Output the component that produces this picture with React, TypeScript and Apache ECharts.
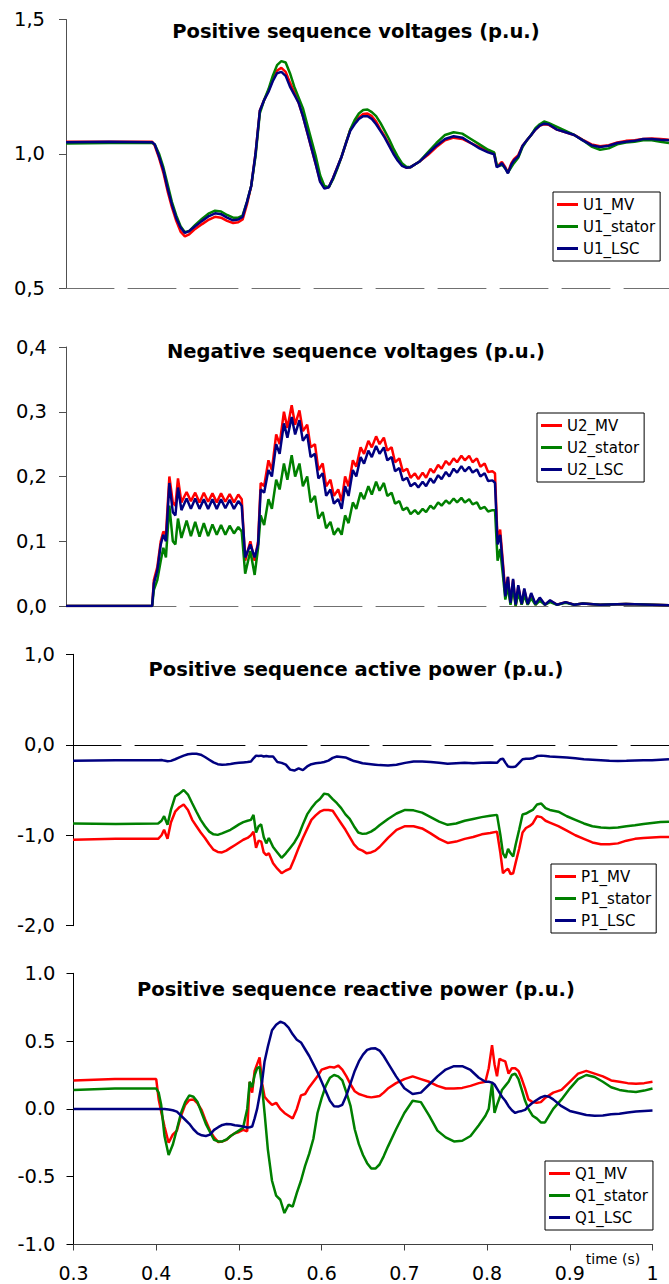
import React, { useEffect, useRef } from "react";
import * as echarts from "echarts";

// ---------- Panel 1: positive sequence voltages ----------
const T1 = [
  0.3, 0.35, 0.4, 0.403, 0.408, 0.413, 0.418, 0.423, 0.428, 0.433,
  0.438, 0.443, 0.45, 0.458, 0.466, 0.473, 0.48, 0.487, 0.494, 0.5,
  0.505, 0.51, 0.515, 0.52, 0.525, 0.53, 0.535, 0.54, 0.545, 0.55,
  0.555, 0.56, 0.565, 0.57, 0.575, 0.58, 0.585, 0.59, 0.595, 0.6,
  0.605, 0.61, 0.615, 0.62, 0.625, 0.63, 0.635, 0.64, 0.645, 0.65,
  0.655, 0.66, 0.665, 0.67, 0.675, 0.68, 0.685, 0.69, 0.695, 0.7,
  0.71, 0.72, 0.73, 0.74, 0.75, 0.76, 0.77, 0.78, 0.79, 0.797,
  0.8, 0.803, 0.806, 0.81, 0.813, 0.817, 0.82, 0.825, 0.83, 0.835,
  0.84, 0.845, 0.85, 0.855, 0.86, 0.87, 0.88, 0.89, 0.9, 0.91,
  0.92, 0.93, 0.94, 0.95, 0.96, 0.97, 0.98, 0.99, 1.0,
];
const U1_MV = [
  1.045, 1.045, 1.045, 1.03, 0.985, 0.93, 0.86, 0.8, 0.75, 0.71,
  0.692, 0.7, 0.72, 0.738, 0.755, 0.765, 0.762, 0.75, 0.742, 0.745,
  0.755, 0.81, 0.88, 1.0, 1.16, 1.2, 1.235, 1.275, 1.31, 1.32,
  1.305, 1.265, 1.23, 1.19, 1.14, 1.08, 1.02, 0.96, 0.9, 0.875,
  0.875, 0.91, 0.95, 0.99, 1.04, 1.09, 1.115, 1.135, 1.148, 1.15,
  1.14, 1.12, 1.09, 1.065, 1.035, 1.005, 0.978, 0.958, 0.948, 0.95,
  0.97, 0.995, 1.025, 1.05, 1.06, 1.055, 1.04, 1.025, 1.01, 1.003,
  0.955, 0.96, 0.97, 0.95, 0.93, 0.965, 0.98, 0.995, 1.03, 1.05,
  1.07, 1.09, 1.105, 1.11, 1.108, 1.09, 1.08, 1.07, 1.052, 1.035,
  1.028, 1.032, 1.042, 1.048, 1.05, 1.055, 1.057, 1.055, 1.052,
];
const U1_stator = [
  1.038, 1.04, 1.04, 1.035, 1.0, 0.95, 0.885, 0.82, 0.77, 0.73,
  0.708, 0.712, 0.735, 0.758, 0.778, 0.788, 0.785, 0.772, 0.762, 0.762,
  0.77, 0.82, 0.88, 0.99, 1.15, 1.2, 1.24, 1.29, 1.33, 1.345,
  1.34, 1.3, 1.25, 1.21, 1.17, 1.11, 1.05, 0.99, 0.92, 0.88,
  0.875, 0.905, 0.945, 0.99, 1.04, 1.09, 1.125, 1.15, 1.163, 1.165,
  1.155, 1.14, 1.115, 1.085, 1.055, 1.02, 0.99, 0.965, 0.952, 0.95,
  0.97, 1.005, 1.04, 1.07, 1.08, 1.075, 1.055, 1.035, 1.015, 1.005,
  0.96, 0.955, 0.96, 0.945, 0.93, 0.95, 0.965, 0.985, 1.025, 1.05,
  1.07, 1.095, 1.11, 1.12, 1.115, 1.1, 1.085, 1.07, 1.05, 1.027,
  1.015, 1.02, 1.035, 1.042, 1.045, 1.05, 1.05, 1.045, 1.04,
];
const U1_LSC = [
  1.043, 1.045, 1.043, 1.035, 0.99, 0.94, 0.87, 0.81, 0.76, 0.725,
  0.705, 0.712, 0.73, 0.75, 0.768, 0.778, 0.775, 0.762, 0.752, 0.755,
  0.765, 0.82, 0.88, 1.0, 1.16, 1.2, 1.23, 1.27, 1.3, 1.305,
  1.29, 1.25, 1.22, 1.19, 1.14, 1.08, 1.02, 0.96, 0.895, 0.87,
  0.875, 0.91, 0.95, 0.99, 1.04, 1.085, 1.11, 1.13, 1.14, 1.14,
  1.13, 1.11, 1.085, 1.06, 1.03, 1.0, 0.975, 0.955, 0.948, 0.95,
  0.97, 1.0, 1.03, 1.055, 1.065, 1.06, 1.04, 1.02, 1.005, 0.998,
  0.95, 0.955, 0.965, 0.945, 0.927, 0.96, 0.975, 0.99, 1.03, 1.05,
  1.07, 1.09, 1.105, 1.112, 1.11, 1.09, 1.08, 1.07, 1.05, 1.032,
  1.025, 1.03, 1.04, 1.045, 1.048, 1.055, 1.055, 1.052, 1.05,
];

// ---------- Panel 2: negative sequence voltages ----------
const T2 = [
  0.3, 0.35, 0.4, 0.402, 0.406, 0.41, 0.413, 0.416, 0.42, 0.424,
  0.427, 0.43, 0.434, 0.44, 0.445, 0.45, 0.455, 0.46, 0.465, 0.47,
  0.475, 0.48, 0.485, 0.49, 0.495, 0.5, 0.504, 0.508, 0.514, 0.519,
  0.523, 0.526, 0.53, 0.535, 0.539, 0.544, 0.548, 0.553, 0.557, 0.562,
  0.566, 0.571, 0.575, 0.58, 0.584, 0.589, 0.593, 0.598, 0.602, 0.607,
  0.611, 0.616, 0.62, 0.624, 0.628, 0.633, 0.637, 0.642, 0.646, 0.651,
  0.655, 0.66, 0.664, 0.669, 0.673, 0.678, 0.682, 0.687, 0.691, 0.696,
  0.7, 0.705, 0.709, 0.714, 0.718, 0.723, 0.727, 0.732, 0.736, 0.741,
  0.745, 0.75, 0.754, 0.759, 0.763, 0.768, 0.772, 0.777, 0.781, 0.786,
  0.79, 0.795, 0.798, 0.801, 0.804, 0.807, 0.81, 0.813, 0.816, 0.819,
  0.822, 0.825, 0.829, 0.832, 0.836, 0.84, 0.845, 0.85, 0.856, 0.862,
  0.87, 0.88, 0.89, 0.9, 0.92, 0.95, 1.0,
];
const U2_MV = [
  0, 0, 0, 0.04, 0.06, 0.1, 0.115, 0.11, 0.2, 0.16,
  0.155, 0.197, 0.16, 0.176, 0.162, 0.175, 0.16, 0.175, 0.161, 0.174,
  0.16, 0.174, 0.161, 0.173, 0.16, 0.172, 0.165, 0.07, 0.1, 0.07,
  0.1, 0.19, 0.185, 0.225, 0.21, 0.265, 0.25, 0.3, 0.275, 0.31,
  0.28, 0.302, 0.27, 0.28, 0.245, 0.25, 0.21, 0.22, 0.185, 0.195,
  0.17, 0.18, 0.162, 0.2, 0.185, 0.225, 0.215, 0.245, 0.235, 0.255,
  0.245, 0.262, 0.25, 0.26, 0.24, 0.245, 0.222, 0.228, 0.208, 0.212,
  0.198, 0.205, 0.196, 0.206, 0.198, 0.212, 0.206, 0.218, 0.212, 0.224,
  0.218, 0.228, 0.222, 0.232, 0.225, 0.232, 0.222, 0.228, 0.215, 0.22,
  0.207, 0.208, 0.205, 0.1, 0.118, 0.07, 0.02, 0.045, 0.003, 0.04,
  0, 0.03, 0.002, 0.025, 0.002, 0.018, 0.002, 0.012, 0.002, 0.008,
  0.002, 0.006, 0.002, 0.004, 0.002, 0.003, 0.001,
];
const U2_stator = [
  0, 0, 0, 0.025, 0.04, 0.07, 0.09, 0.075, 0.155, 0.1,
  0.095, 0.135, 0.105, 0.132, 0.108, 0.13, 0.107, 0.128, 0.108, 0.126,
  0.11, 0.125, 0.11, 0.124, 0.112, 0.122, 0.115, 0.05, 0.085, 0.048,
  0.09, 0.14, 0.125, 0.165, 0.15, 0.195, 0.18, 0.22, 0.195, 0.233,
  0.2, 0.22, 0.185, 0.2, 0.16, 0.17, 0.135, 0.145, 0.12, 0.13,
  0.11, 0.12, 0.11, 0.14, 0.128, 0.16, 0.15, 0.175, 0.165, 0.185,
  0.172, 0.192, 0.178, 0.19, 0.17, 0.175, 0.158, 0.162, 0.148, 0.152,
  0.142, 0.148, 0.142, 0.15, 0.145, 0.155, 0.15, 0.16, 0.155, 0.163,
  0.158, 0.166, 0.16, 0.167, 0.16, 0.165, 0.157, 0.16, 0.15, 0.153,
  0.146, 0.148, 0.148, 0.07, 0.088, 0.05, 0.01, 0.03, 0.002, 0.028,
  0, 0.02, 0.002, 0.016, 0.002, 0.012, 0.002, 0.008, 0.002, 0.006,
  0.002, 0.005, 0.002, 0.004, 0.002, 0.003, 0.001,
];
const U2_LSC = [
  0, 0, 0, 0.035, 0.055, 0.095, 0.11, 0.1, 0.19, 0.145,
  0.14, 0.183, 0.148, 0.166, 0.15, 0.166, 0.15, 0.165, 0.15, 0.165,
  0.15, 0.165, 0.151, 0.164, 0.15, 0.162, 0.155, 0.075, 0.095, 0.075,
  0.095, 0.18, 0.175, 0.21, 0.2, 0.25, 0.235, 0.282, 0.26, 0.292,
  0.265, 0.287, 0.255, 0.265, 0.23, 0.235, 0.197, 0.205, 0.17, 0.18,
  0.158, 0.165, 0.15, 0.185, 0.17, 0.21, 0.2, 0.23, 0.22, 0.24,
  0.23, 0.247, 0.235, 0.245, 0.225, 0.23, 0.208, 0.213, 0.194, 0.198,
  0.185, 0.19, 0.183, 0.192, 0.185, 0.197, 0.19, 0.202, 0.196, 0.207,
  0.2, 0.212, 0.206, 0.216, 0.208, 0.215, 0.206, 0.211, 0.2, 0.205,
  0.193, 0.194, 0.19, 0.095, 0.11, 0.065, 0.015, 0.045, 0.005, 0.042,
  0.002, 0.032, 0.003, 0.027, 0.003, 0.02, 0.003, 0.013, 0.002, 0.009,
  0.002, 0.006, 0.002, 0.004, 0.002, 0.003, 0.001,
];

// ---------- Panel 3: positive sequence active power ----------
const T3 = [
  0.3, 0.35, 0.4, 0.404, 0.407, 0.411, 0.415, 0.42, 0.425, 0.43,
  0.435, 0.44, 0.445, 0.45, 0.455, 0.46, 0.465, 0.47, 0.475, 0.48,
  0.485, 0.49, 0.495, 0.5, 0.505, 0.509, 0.512, 0.515, 0.518, 0.521,
  0.524, 0.527, 0.53, 0.535, 0.54, 0.545, 0.55, 0.555, 0.56, 0.565,
  0.57, 0.575, 0.58, 0.585, 0.59, 0.595, 0.6, 0.605, 0.61, 0.615,
  0.62, 0.625, 0.63, 0.635, 0.64, 0.645, 0.65, 0.655, 0.66, 0.67,
  0.68, 0.69, 0.7, 0.71, 0.72, 0.73, 0.74, 0.75, 0.76, 0.77,
  0.78, 0.79, 0.798, 0.802, 0.805, 0.808, 0.811, 0.814, 0.817, 0.82,
  0.824, 0.828, 0.832, 0.836, 0.84, 0.845, 0.85, 0.855, 0.86, 0.87,
  0.88, 0.89, 0.9, 0.91, 0.92, 0.93, 0.94, 0.95, 0.96, 0.97,
  0.98, 0.99, 1.0,
];
const P1_MV = [
  -1.05, -1.04, -1.04, -1.0, -0.94, -1.04, -0.86, -0.74, -0.69, -0.66,
  -0.72, -0.83, -0.9, -0.97, -1.03, -1.1, -1.16, -1.185, -1.19, -1.17,
  -1.14, -1.11, -1.08, -1.05, -1.03, -1.0, -0.96, -1.14, -1.06, -1.07,
  -1.19, -1.22, -1.2, -1.31, -1.37, -1.42, -1.39, -1.37, -1.26, -1.14,
  -1.03, -0.93, -0.83, -0.78, -0.74, -0.72, -0.72, -0.73, -0.8, -0.87,
  -0.94, -1.02, -1.1, -1.15, -1.17, -1.2, -1.19, -1.17, -1.13, -1.03,
  -0.94, -0.9, -0.9, -0.925, -0.98, -1.04, -1.085, -1.07, -1.04, -1.02,
  -0.99, -0.975, -0.96, -1.2, -1.42, -1.39, -1.37, -1.43, -1.42, -1.3,
  -1.15, -0.97, -0.92, -0.9, -0.87, -0.79, -0.8, -0.84, -0.86, -0.9,
  -0.95, -1.0, -1.04, -1.08, -1.1, -1.1, -1.09, -1.06, -1.04, -1.03,
  -1.025, -1.02, -1.02,
];
const P1_stator = [
  -0.87, -0.875, -0.87, -0.84, -0.79, -0.885, -0.72, -0.57, -0.54, -0.5,
  -0.55, -0.646, -0.74, -0.83, -0.9, -0.96, -0.99, -0.996, -0.98, -0.96,
  -0.94, -0.91, -0.88, -0.855, -0.84, -0.83, -0.775, -0.97, -0.9, -0.88,
  -1.02, -1.09, -1.03, -1.13, -1.19, -1.25, -1.2, -1.14, -1.08, -1.0,
  -0.88, -0.77, -0.7, -0.64, -0.6, -0.54, -0.55, -0.6, -0.646, -0.7,
  -0.77, -0.82, -0.9, -0.97, -0.985, -0.98, -0.96, -0.93, -0.89, -0.82,
  -0.76, -0.72, -0.725, -0.75, -0.8, -0.85, -0.885, -0.87, -0.84, -0.82,
  -0.8, -0.785, -0.775, -1.0, -1.2, -1.25, -1.15, -1.2, -1.236, -1.1,
  -0.94, -0.77, -0.76, -0.74, -0.72, -0.66, -0.65, -0.7, -0.72, -0.74,
  -0.79, -0.83, -0.87, -0.9, -0.915, -0.92, -0.915, -0.9, -0.89, -0.875,
  -0.865, -0.855, -0.85,
];
const P1_LSC = [
  -0.178, -0.172, -0.17, -0.168, -0.175, -0.182, -0.178, -0.16, -0.14, -0.12,
  -0.105, -0.1, -0.1, -0.11, -0.135, -0.165, -0.195, -0.215, -0.222, -0.218,
  -0.212, -0.205, -0.2, -0.195, -0.19, -0.185, -0.15, -0.12, -0.125, -0.12,
  -0.13, -0.125, -0.13, -0.13, -0.19, -0.2, -0.22, -0.275, -0.285, -0.26,
  -0.28, -0.24, -0.215, -0.205, -0.2, -0.19, -0.175, -0.145, -0.13, -0.135,
  -0.14, -0.16, -0.18, -0.19, -0.205, -0.21, -0.215, -0.22, -0.225, -0.228,
  -0.22, -0.2, -0.185, -0.185, -0.19, -0.2, -0.21, -0.205, -0.2, -0.205,
  -0.2, -0.195, -0.2, -0.16, -0.155, -0.2, -0.24, -0.245, -0.245, -0.24,
  -0.2, -0.16, -0.155, -0.155, -0.15, -0.125, -0.12, -0.125, -0.13, -0.135,
  -0.14, -0.15, -0.16, -0.165, -0.17, -0.178, -0.18, -0.178, -0.175, -0.172,
  -0.17, -0.165, -0.16,
];

// ---------- Panel 4: positive sequence reactive power ----------
const T4 = [
  0.3, 0.35, 0.4, 0.403, 0.406, 0.41, 0.415, 0.42, 0.425, 0.43,
  0.435, 0.44, 0.445, 0.45, 0.455, 0.46, 0.465, 0.47, 0.475, 0.48,
  0.485, 0.49, 0.495, 0.5, 0.505, 0.51, 0.513, 0.516, 0.519, 0.522,
  0.525, 0.528, 0.531, 0.535, 0.54, 0.545, 0.55, 0.555, 0.56, 0.565,
  0.57, 0.575, 0.58, 0.585, 0.59, 0.595, 0.6, 0.605, 0.61, 0.615,
  0.62, 0.625, 0.63, 0.635, 0.64, 0.645, 0.65, 0.655, 0.66, 0.665,
  0.67, 0.675, 0.68, 0.69, 0.7, 0.71, 0.72, 0.73, 0.74, 0.75,
  0.76, 0.77, 0.78, 0.79, 0.798, 0.802, 0.806, 0.809, 0.812, 0.815,
  0.818, 0.822, 0.826, 0.83, 0.834, 0.838, 0.842, 0.846, 0.85, 0.855,
  0.86, 0.865, 0.87, 0.875, 0.88, 0.89, 0.9, 0.91, 0.92, 0.93,
  0.94, 0.95, 0.96, 0.97, 0.98, 0.99, 1.0,
];
const Q1_MV = [
  0.21, 0.22, 0.22, 0.07, -0.02, -0.13, -0.25, -0.19, -0.16, -0.05,
  0.03, 0.066, 0.07, 0.04, -0.01, -0.09, -0.16, -0.21, -0.245, -0.24,
  -0.228, -0.2, -0.18, -0.17, -0.155, -0.165, 0.2, 0.12, 0.28, 0.33,
  0.38, 0.19, 0.09, 0.06, 0.03, 0.045, 0.0, -0.03, -0.05, -0.07,
  0.0, 0.1, 0.11, 0.16, 0.2, 0.24, 0.29, 0.3, 0.31, 0.305,
  0.32, 0.29, 0.24, 0.18, 0.13, 0.11, 0.1, 0.09, 0.085, 0.09,
  0.095, 0.12, 0.15, 0.19, 0.22, 0.24, 0.22, 0.2, 0.17, 0.15,
  0.15, 0.155, 0.17, 0.19, 0.2, 0.3, 0.47, 0.33, 0.24, 0.37,
  0.36, 0.35, 0.26, 0.3, 0.3, 0.28, 0.22, 0.15, 0.07, 0.05,
  0.045, 0.05, 0.08, 0.1, 0.12, 0.14, 0.2, 0.26, 0.28, 0.26,
  0.24, 0.21, 0.2, 0.19, 0.185, 0.19, 0.2,
];
const Q1_stator = [
  0.14, 0.15, 0.15, 0.12, 0.03, -0.2, -0.34, -0.265, -0.15, -0.03,
  0.05, 0.1, 0.09, 0.05, -0.03, -0.11, -0.17, -0.228, -0.24, -0.24,
  -0.225, -0.2, -0.18, -0.16, -0.14, 0.0, 0.2, 0.16, 0.25, 0.3,
  0.31, 0.16, -0.03, -0.3, -0.53, -0.64, -0.67, -0.768, -0.707, -0.72,
  -0.62, -0.53, -0.42, -0.33, -0.22, -0.03, 0.08, 0.17, 0.23, 0.25,
  0.24, 0.21, 0.12, 0.02, -0.15, -0.26, -0.34, -0.4, -0.44, -0.44,
  -0.41, -0.35, -0.28, -0.15, -0.03, 0.06, 0.05, -0.05, -0.16, -0.21,
  -0.24, -0.235, -0.2, -0.12, -0.05, 0.0, 0.19, -0.03, 0.03, 0.08,
  0.14, 0.17, 0.2, 0.25, 0.26, 0.22, 0.14, 0.06, 0.0, -0.05,
  -0.07, -0.1, -0.1, -0.05, 0.0, 0.07, 0.15, 0.22, 0.25, 0.235,
  0.2, 0.16, 0.14, 0.13, 0.125, 0.135, 0.15,
];
const Q1_LSC = [
  0, 0, 0, 0, 0, 0, -0.005, -0.01, -0.02, -0.05,
  -0.08, -0.11, -0.15, -0.18, -0.195, -0.2, -0.19, -0.155, -0.135, -0.118,
  -0.112, -0.113, -0.12, -0.125, -0.13, -0.137, -0.135, -0.13, -0.07, 0.0,
  0.1, 0.2, 0.35, 0.46, 0.58, 0.62, 0.643, 0.63, 0.6, 0.55,
  0.51, 0.49, 0.44, 0.39, 0.33, 0.27, 0.2, 0.13, 0.06, 0.02,
  0.017, 0.03, 0.1, 0.19, 0.28, 0.35, 0.4, 0.435, 0.445, 0.447,
  0.43, 0.39, 0.34, 0.24, 0.152, 0.11, 0.12, 0.18, 0.24, 0.29,
  0.315, 0.315, 0.287, 0.23, 0.2, 0.2, 0.194, 0.18, 0.15, 0.12,
  0.09, 0.06, 0.02, -0.01, -0.03, -0.02, -0.015, -0.007, 0.02, 0.045,
  0.066, 0.085, 0.096, 0.09, 0.07, 0.02, -0.015, -0.03, -0.045, -0.05,
  -0.048, -0.04, -0.035, -0.027, -0.02, -0.015, -0.012,
];

const TITLES = [
  "Positive sequence voltages (p.u.)",
  "Negative sequence voltages (p.u.)",
  "Positive sequence active power (p.u.)",
  "Positive sequence reactive power (p.u.)",
];
const X_TICK_LABELS = ["0.3", "0.4", "0.5", "0.6", "0.7", "0.8", "0.9", "1"];

const RED = "#ff0000";
const GREEN = "#008000";
const BLUE = "#000080";
const FONT = "DejaVu Sans";

export default function App() {
  const ref = useRef<HTMLDivElement>(null);

  useEffect(() => {
    if (!ref.current) return;
    const chart = echarts.init(ref.current, null, { renderer: "svg" });

    const grids = [
      { left: 66, right: -5, top: 19.5, height: 268.5 },
      { left: 66, right: -5, top: 347, height: 259 },
      { left: 73, right: -3, top: 654.3, height: 271.4 },
      { left: 73.5, right: 16.5, top: 973.3, height: 271.2 },
    ];

    const comma = (v: number) => v.toFixed(1).replace(".", ",");
    const yCfg = [
      { min: 0.5, max: 1.5, interval: 0.5, fmt: comma, margin: 21 },
      { min: 0, max: 0.4, interval: 0.1, fmt: comma, margin: 19 },
      { min: -2, max: 1, interval: 1, fmt: comma, margin: 18 },
      { min: -1, max: 1, interval: 0.5, fmt: (v: number) => v.toFixed(1), margin: 18 },
    ];

    const xAxes = grids.map((_, i) => {
      const last = i === 3;
      return {
        type: "value",
        gridIndex: i,
        min: 0.3,
        max: 1.0,
        interval: 0.1,
        splitLine: { show: false },
        axisLine: {
          show: true,
          onZero: !last,
          lineStyle: last
            ? { color: "#404040", width: 1 }
            : { color: i === 2 ? "#000" : "#707070", width: 1, type: [48, 14] },
        },
        axisTick: { show: last, length: 6, lineStyle: { color: "#404040" } },
        axisLabel: {
          show: last,
          margin: 19,
          fontFamily: FONT,
          fontSize: 19,
          color: "#000",
          formatter: (v: number) => {
            const idx = Math.round((v - 0.3) * 10);
            return X_TICK_LABELS[idx] ?? "";
          },
        },
      };
    });

    const yAxes = yCfg.map((c, i) => ({
      type: "value",
      gridIndex: i,
      min: c.min,
      max: c.max,
      interval: c.interval,
      splitLine: { show: false },
      axisLine: { show: true, onZero: false, lineStyle: { color: i < 2 ? "#505050" : "#000", width: 1 } },
      axisTick: { show: true, length: 7, lineStyle: { color: i < 2 ? "#505050" : "#000" } },
      axisLabel: {
        margin: c.margin,
        fontFamily: FONT,
        fontSize: 19.5,
        color: "#000",
        formatter: c.fmt,
      },
    }));

    const mk = (name: string, T: number[], V: number[], color: string, gi: number) => ({
      type: "line",
      name,
      xAxisIndex: gi,
      yAxisIndex: gi,
      data: T.map((t, k) => [t, V[k]]),
      symbol: "none",
      showSymbol: false,
      lineStyle: { width: 2.5, color },
      itemStyle: { color },
      emphasis: { disabled: true },
    });

    const series = [
      mk("U1_MV", T1, U1_MV, RED, 0),
      mk("U1_stator", T1, U1_stator, GREEN, 0),
      mk("U1_LSC", T1, U1_LSC, BLUE, 0),
      mk("U2_MV", T2, U2_MV, RED, 1),
      mk("U2_stator", T2, U2_stator, GREEN, 1),
      mk("U2_LSC", T2, U2_LSC, BLUE, 1),
      mk("P1_MV", T3, P1_MV, RED, 2),
      mk("P1_stator", T3, P1_stator, GREEN, 2),
      mk("P1_LSC", T3, P1_LSC, BLUE, 2),
      mk("Q1_MV", T4, Q1_MV, RED, 3),
      mk("Q1_stator", T4, Q1_stator, GREEN, 3),
      mk("Q1_LSC", T4, Q1_LSC, BLUE, 3),
    ];

    const legendPos = [
      { left: 553, top: 192, p: "U1" },
      { left: 537, top: 413, p: "U2" },
      { left: 551, top: 864, p: "P1" },
      { left: 545, top: 1161, p: "Q1" },
    ];
    const legends = legendPos.map((l) => ({
      orient: "vertical",
      left: l.left,
      top: l.top,
      data: [l.p + "_MV", l.p + "_stator", l.p + "_LSC"],
      icon: "rect",
      itemWidth: 21,
      itemHeight: 3,
      itemGap: 5,
      padding: [4, 5, 4, 4],
      borderColor: "#000",
      borderWidth: 1,
      backgroundColor: "#fff",
      selectedMode: false,
      textStyle: { fontFamily: FONT, fontSize: 15, color: "#000", lineHeight: 17 },
    }));

    const titleY = [31, 351, 669, 989];
    const graphic: any[] = TITLES.map((t, i) => ({
      type: "text",
      x: 356,
      y: titleY[i],
      style: {
        text: t,
        fontFamily: FONT,
        fontWeight: "bold",
        fontSize: 19.5,
        fill: "#000",
        align: "center",
        verticalAlign: "middle",
      },
    }));
    graphic.push({
      type: "text",
      x: 613,
      y: 1259,
      style: {
        text: "time (s)",
        fontFamily: FONT,
        fontSize: 14,
        fill: "#000",
        align: "center",
        verticalAlign: "middle",
      },
    });

    chart.setOption({
      animation: false,
      backgroundColor: "#fff",
      grid: grids,
      xAxis: xAxes,
      yAxis: yAxes,
      legend: legends,
      series,
      graphic,
    });

    return () => chart.dispose();
  }, []);

  return (
    <div
      ref={ref}
      style={{ position: "absolute", left: 0, top: 0, width: 669, height: 1284 }}
    />
  );
}
